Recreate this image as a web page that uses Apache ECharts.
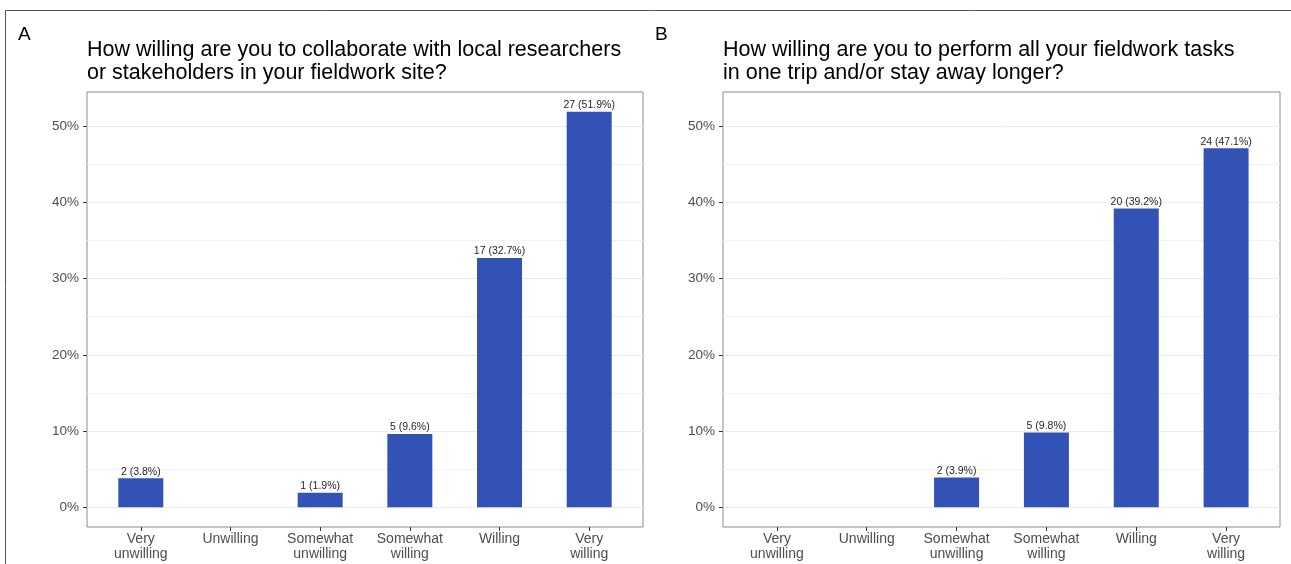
<!DOCTYPE html>
<html>
<head>
<meta charset="utf-8">
<script src="https://cdn.jsdelivr.net/npm/echarts@6/dist/echarts.min.js"></script>
<style>
  html, body { margin: 0; padding: 0; background: #ffffff; }
  #chart { width: 1291px; height: 564px; }
</style>
</head>
<body>
<div id="chart"></div>
<script>
// Response categories shared by both questions
const categories = ['Very\nunwilling', 'Unwilling', 'Somewhat\nunwilling', 'Somewhat\nwilling', 'Willing', 'Very\nwilling'];

// Panel A: collaborate with local researchers or stakeholders
const titleA = 'How willing are you to collaborate with local researchers\nor stakeholders in your fieldwork site?';
const countsA = [2, null, 1, 5, 17, 27];
const percentA = [3.8, null, 1.9, 9.6, 32.7, 51.9];

// Panel B: perform all fieldwork tasks in one trip / stay longer
const titleB = 'How willing are you to perform all your fieldwork tasks\nin one trip and/or stay away longer?';
const countsB = [null, null, 2, 5, 20, 24];
const percentB = [null, null, 3.9, 9.8, 39.2, 47.1];

// Y axis tick labels (percent) and gridline levels
const yTicks = [0, 10, 20, 30, 40, 50];
const yMinor = [5, 15, 25, 35, 45];

const FONT = '"Liberation Sans", Arial, Helvetica, sans-serif';
const BAR_COLOR = '#3253B5';
const Y_MIN = -2.595, Y_MAX = 54.495;
const X_MIN = -0.6, X_MAX = categories.length - 1 + 0.6;

function barData(counts, pcts) {
  const out = [];
  pcts.forEach((p, i) => {
    if (p !== null) out.push({ value: [i, p], count: counts[i] });
  });
  return out;
}

function xAxisFor(gridIndex) {
  const idx = categories.map((_, i) => i);
  return {
    type: 'value', gridIndex, min: X_MIN, max: X_MAX, position: 'bottom',
    axisLine: { show: false, onZero: false },
    splitLine: { show: false },
    axisTick: { show: true, length: 4, customValues: idx, lineStyle: { color: '#333333', width: 1 } },
    axisLabel: {
      customValues: idx, margin: 5,
      formatter: v => categories[Math.round(v)],
      color: '#4D4D4D', fontSize: 14, lineHeight: 15, fontFamily: FONT
    }
  };
}

function yAxisFor(gridIndex) {
  return {
    type: 'value', gridIndex, min: Y_MIN, max: Y_MAX, position: 'left',
    axisLine: { show: false, onZero: false },
    splitLine: { show: false },
    axisTick: { show: true, length: 4, customValues: yTicks, lineStyle: { color: '#333333', width: 1 } },
    axisLabel: {
      customValues: yTicks, margin: 8,
      formatter: v => v + '%',
      color: '#4D4D4D', fontSize: 13.5, fontFamily: FONT
    }
  };
}

function gridLines() {
  return yTicks.map(v => ({ yAxis: v, lineStyle: { color: '#EBEBEB', width: 1, type: 'solid' } }))
    .concat(yMinor.map(v => ({ yAxis: v, lineStyle: { color: '#F2F2F2', width: 1, type: 'solid' } })));
}

function barSeries(axisIndex, counts, pcts) {
  return {
    type: 'bar', xAxisIndex: axisIndex, yAxisIndex: axisIndex, z: 3,
    barWidth: 45,
    itemStyle: { color: BAR_COLOR },
    data: barData(counts, pcts),
    label: {
      show: true, position: 'top', distance: 1,
      color: '#262626', fontSize: 10.5, fontFamily: FONT,
      formatter: p => p.data.count + ' (' + p.data.value[1].toFixed(1) + '%)'
    },
    markLine: {
      z: 1, silent: true, symbol: 'none', animation: false,
      label: { show: false },
      lineStyle: { type: 'solid' },
      data: gridLines()
    }
  };
}

const chart = echarts.init(document.getElementById('chart'), null, { renderer: 'canvas' });
chart.setOption({
  animation: false,
  backgroundColor: '#ffffff',
  textStyle: { fontFamily: FONT },
  title: [
    { text: 'A', left: 18, top: 25, padding: 0, textStyle: { fontSize: 19, fontWeight: 'normal', color: '#000', fontFamily: FONT } },
    { text: titleA, left: 87, top: 39, padding: 0, textStyle: { fontSize: 21.5, lineHeight: 23, fontWeight: 'normal', color: '#000', fontFamily: FONT } },
    { text: 'B', left: 655, top: 25, padding: 0, textStyle: { fontSize: 19, fontWeight: 'normal', color: '#000', fontFamily: FONT } },
    { text: titleB, left: 723, top: 39, padding: 0, textStyle: { fontSize: 21.5, lineHeight: 23, fontWeight: 'normal', color: '#000', fontFamily: FONT } }
  ],
  grid: [
    { left: 87, top: 92, width: 556, height: 435, show: true, borderColor: '#8C8C8C', borderWidth: 1, backgroundColor: 'transparent' },
    { left: 723, top: 92, width: 557, height: 435, show: true, borderColor: '#8C8C8C', borderWidth: 1, backgroundColor: 'transparent' }
  ],
  xAxis: [xAxisFor(0), xAxisFor(1)],
  yAxis: [yAxisFor(0), yAxisFor(1)],
  series: [barSeries(0, countsA, percentA), barSeries(1, countsB, percentB)],
  graphic: [{
    type: 'polyline', silent: true,
    shape: { points: [[1291, 10.5], [5.5, 10.5], [5.5, 564]] },
    style: { stroke: '#555555', lineWidth: 1, fill: null }
  }]
});
</script>
</body>
</html>
